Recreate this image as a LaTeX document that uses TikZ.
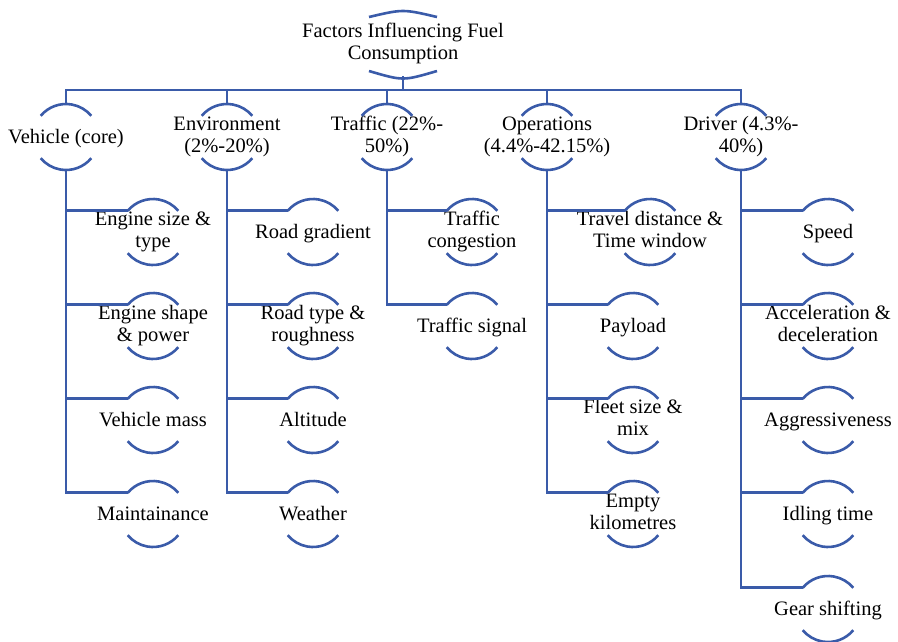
\documentclass[tikz,border=0pt]{standalone}
\usepackage{fontspec}
\setmainfont{Liberation Serif}
\definecolor{lineblue}{HTML}{3A5BA9}
\begin{document}
\begin{tikzpicture}[x=1pt,y=-1pt,
			fac/.style={align=center,inner sep=1pt,font=\fontsize{20.5}{22}\selectfont,
				execute at begin node={\rule{0pt}{18pt}},execute at end node={\rule[-5pt]{0pt}{5pt}}},
			ln/.style={draw=lineblue,line width=2.9pt},
			rim/.style={draw=lineblue,line width=2.6pt}
			]
			\useasboundingbox (0,0) rectangle (898,641);
			\node[fac] (root) at (403,44) {Factors Influencing Fuel\\Consumption};
			\node[fac] (veh) at (66,137) {Vehicle (core)};
			\node[fac] (env) at (227,137) {Environment\\(2\%-20\%)};
			\node[fac] (tra) at (387,137) {Traffic (22\%-\\50\%)};
			\node[fac] (ope) at (547,137) {Operations\\(4.4\%-42.15\%)};
			\node[fac] (drv) at (741,137) {Driver (4.3\%-\\40\%)};
			\node[fac] (v1) at (153,232) {Engine size \&\\type};
			\node[fac] (v2) at (153,326) {Engine shape\\\& power};
			\node[fac] (v3) at (153,420) {Vehicle mass};
			\node[fac] (v4) at (153,514) {Maintainance};
			\node[fac] (e1) at (313,232) {Road gradient};
			\node[fac] (e2) at (313,326) {Road type \&\\roughness};
			\node[fac] (e3) at (313,420) {Altitude};
			\node[fac] (e4) at (313,514) {Weather};
			\node[fac] (t1) at (472,232) {Traffic\\congestion};
			\node[fac] (t2) at (472,326) {Traffic signal};
			\node[fac] (o1) at (650,232) {Travel distance \&\\Time window};
			\node[fac] (o2) at (633,326) {Payload};
			\node[fac] (o3) at (633,420) {Fleet size \&\\mix};
			\node[fac] (o4) at (633,514) {Empty\\kilometres};
			\node[fac] (d1) at (828,232) {Speed};
			\node[fac] (d2) at (828,326) {Acceleration \&\\deceleration};
			\node[fac] (d3) at (828,420) {Aggressiveness};
			\node[fac] (d4) at (828,514) {Idling time};
			\node[fac] (d5) at (828,609) {Gear shifting};
			\coordinate (hub) at (403,90);
			\draw[rim] ([shift={(-34,-27)}]root.center) .. controls ([shift={(0,-35)}]root.center) .. ([shift={(34,-27)}]root.center);
			\draw[rim] ([shift={(-34,27)}]root.center) .. controls ([shift={(0,37)}]root.center) .. ([shift={(34,27)}]root.center);
			\foreach \n in {veh,env,tra,ope,drv,v1,v2,v3,v4,e1,e2,e3,e4,t1,t2,o1,o2,o3,o4,d1,d2,d3,d4,d5} {
				\draw[rim] ([shift={(220:33)}]\n.center) arc[start angle=220,end angle=320,radius=33];
				\draw[rim] ([shift={(40:33)}]\n.center) arc[start angle=40,end angle=140,radius=33];
			}
			\draw[ln] ([shift={(0,32)}]root.center) -- (hub);
			\foreach \n in {veh,env,tra,ope,drv}
				\draw[ln] ([shift={(0,-33)}]\n.center) |- (hub);
			\foreach \p/\c in {veh/v1,veh/v2,veh/v3,veh/v4,env/e1,env/e2,env/e3,env/e4,tra/t1,tra/t2,ope/o1,ope/o2,ope/o3,ope/o4,drv/d1,drv/d2,drv/d3,drv/d4,drv/d5}
				\draw[ln] ([shift={(220:33)}]\c.center) -| ([shift={(0,33)}]\p.center);
		\end{tikzpicture}
\end{document}
